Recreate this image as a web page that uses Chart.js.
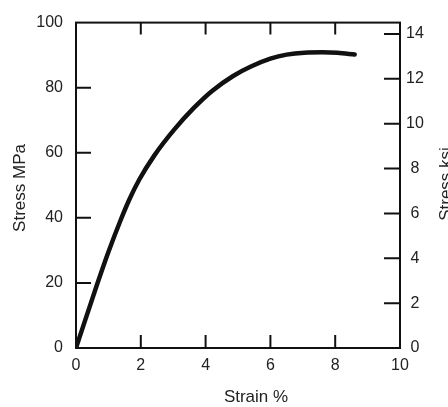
<!DOCTYPE html>
<html>
<head>
<meta charset="utf-8">
<script src="https://cdn.jsdelivr.net/npm/chart.js@4/dist/chart.umd.min.js"></script>
<style>
html,body{margin:0;padding:0;background:#fff;}
#wrap{width:448px;height:407px;}
</style>
</head>
<body>
<div id="wrap"><canvas id="c" width="448" height="407"></canvas></div>
<script>
// Data
const strainPct = [0, 0.66, 1.0, 1.37, 1.65, 1.95, 2.42, 3.03, 3.63, 4.2, 4.85, 5.4, 6.0, 6.5, 7.05, 7.6, 8.07, 8.6];
const stressMPa = [0, 19.8, 29.5, 39.1, 45.7, 51.7, 59.2, 67.1, 73.7, 79.0, 83.6, 86.5, 88.9, 90.15, 90.75, 90.85, 90.7, 90.2];
const xTicks = [0, 2, 4, 6, 8, 10];
const mpaTicks = [0, 20, 40, 60, 80, 100];
const ksiTicks = [0, 2, 4, 6, 8, 10, 12, 14];
const MPA_PER_KSI = 6.895;
const xTitle = 'Strain %';
const yTitle = 'Stress MPa';
const y2Title = 'Stress ksi';

const FONT = "'Liberation Sans', Arial, Helvetica, sans-serif";
const INK = '#111';

const points = strainPct.map((s, i) => ({x: s, y: stressMPa[i]}));

const framePlugin = {
  id: 'frame',
  afterDraw(chart) {
    const ctx = chart.ctx;
    const a = chart.chartArea;
    const sx = chart.scales.x, sy = chart.scales.y, sk = chart.scales.y2;
    ctx.save();
    ctx.strokeStyle = INK;
    ctx.lineWidth = 2;
    ctx.lineCap = 'butt';
    ctx.strokeRect(a.left, a.top, a.right - a.left, a.bottom - a.top);
    ctx.beginPath();
    sx.ticks.forEach(t => {
      if (t.value <= 0 || t.value >= 10) return;
      const px = sx.getPixelForValue(t.value);
      ctx.moveTo(px, a.bottom); ctx.lineTo(px, a.bottom - 13);
      ctx.moveTo(px, a.top); ctx.lineTo(px, a.top + 12);
    });
    sy.ticks.forEach(t => {
      if (t.value <= 0 || t.value >= 100) return;
      const py = sy.getPixelForValue(t.value);
      ctx.moveTo(a.left, py); ctx.lineTo(a.left + 15, py);
    });
    sk.ticks.forEach(t => {
      if (t.value <= 0) return;
      const py = sk.getPixelForValue(t.value);
      ctx.moveTo(a.right, py); ctx.lineTo(a.right - 16, py);
    });
    ctx.stroke();
    ctx.fillStyle = '#222';
    ctx.font = '17px ' + FONT;
    ctx.textAlign = 'center';
    ctx.textBaseline = 'middle';
    ctx.fillText(xTitle, 256, 397);
    ctx.save();
    ctx.translate(20, 188);
    ctx.rotate(-Math.PI / 2);
    ctx.fillText(yTitle, 0, 0);
    ctx.restore();
    ctx.save();
    ctx.translate(446, 184);
    ctx.rotate(-Math.PI / 2);
    ctx.fillText(y2Title, 0, 0);
    ctx.restore();
    ctx.restore();
  }
};

new Chart(document.getElementById('c'), {
  type: 'line',
  data: {
    datasets: [{
      data: points,
      borderColor: INK,
      borderWidth: 4.5,
      borderCapStyle: 'round',
      borderJoinStyle: 'round',
      pointRadius: 0,
      fill: false,
      cubicInterpolationMode: 'monotone',
      yAxisID: 'y'
    }]
  },
  options: {
    responsive: false,
    animation: false,
    events: [],
    layout: {padding: {top: 19, left: 0, right: 0, bottom: 0}},
    plugins: {legend: {display: false}, tooltip: {enabled: false}},
    scales: {
      x: {
        type: 'linear', position: 'bottom', min: 0, max: 10,
        afterBuildTicks: s => { s.ticks = xTicks.map(v => ({value: v})); },
        grid: {display: false, drawTicks: false},
        border: {display: false},
        ticks: {color: '#222', font: {family: FONT, size: 16}, padding: 8, maxRotation: 0},
        afterFit: s => { s.height = 59; }
      },
      y: {
        type: 'linear', position: 'left', min: 0, max: 100,
        afterBuildTicks: s => { s.ticks = mpaTicks.map(v => ({value: v})); },
        grid: {display: false, drawTicks: false},
        border: {display: false},
        ticks: {color: '#222', font: {family: FONT, size: 16}, padding: 13},
        afterFit: s => { s.width = 76; }
      },
      y2: {
        type: 'linear', position: 'right', min: 0, max: 100 / MPA_PER_KSI,
        afterBuildTicks: s => { s.ticks = ksiTicks.map(v => ({value: v})); },
        grid: {display: false, drawTicks: false},
        border: {display: false},
        ticks: {color: '#222', font: {family: FONT, size: 16}, padding: 6, crossAlign: 'center'},
        afterFit: s => { s.width = 48; }
      }
    }
  },
  plugins: [framePlugin]
});
</script>
</body>
</html>
